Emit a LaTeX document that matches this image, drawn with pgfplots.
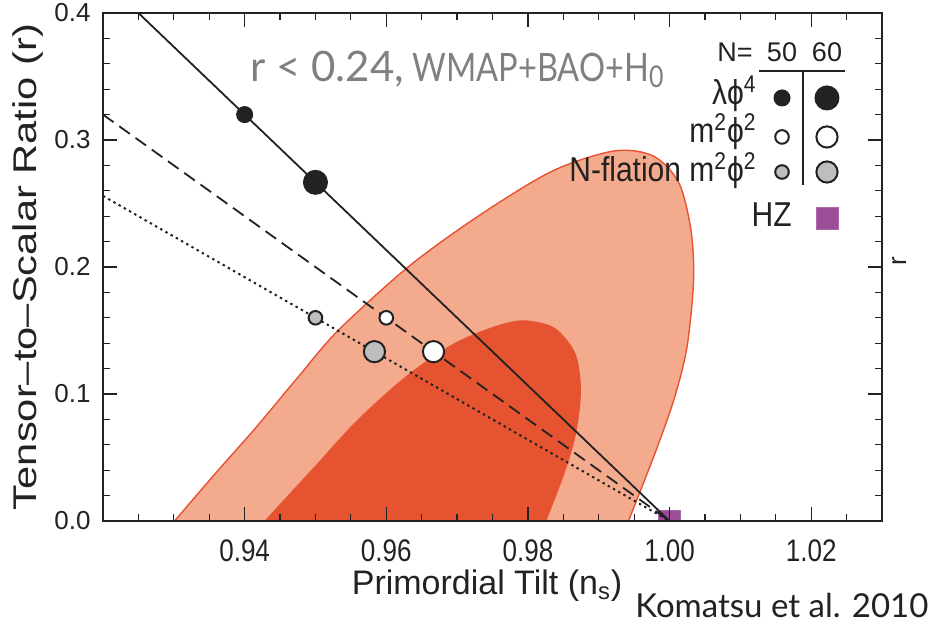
\documentclass[border=0pt]{standalone}
\usepackage{fontspec}
\usepackage{graphicx}
\usepackage{pgfplots}
\pgfplotsset{compat=1.18}
\setmainfont{Liberation Sans}
\newfontfamily\gill{Lato}

\definecolor{outerfill}{RGB}{244,170,140}
\definecolor{outeredge}{RGB}{232,82,50}
\definecolor{innerfill}{RGB}{229,83,48}
\definecolor{ink}{RGB}{34,34,34}
\definecolor{markgray}{RGB}{190,190,190}
\definecolor{hzpurple}{RGB}{155,77,152}
\definecolor{titlegray}{RGB}{128,128,128}

% 95% and 68% confidence regions in the (n_s, r) plane
\pgfplotstableread{
ns r
0.9270 -0.020
0.9301 0.000
0.9358 0.037
0.9415 0.073
0.9475 0.113
0.9532 0.150
0.9633 0.201
0.9734 0.2416
0.9835 0.2757
0.9922 0.2914
0.9977 0.2874
1.0013 0.2665
1.0030 0.2298
1.0034 0.1906
1.0025 0.1382
1.0008 0.0990
0.9982 0.0571
0.9942 0.000
0.9928 -0.020
}\outercontour

\pgfplotstableread{
ns r
0.9398 -0.020
0.9428 0.000
0.9498 0.0425
0.9559 0.0795
0.9630 0.115
0.9696 0.140
0.9757 0.154
0.9796 0.158
0.9838 0.152
0.9867 0.132
0.9875 0.103
0.9868 0.069
0.9852 0.038
0.9826 0.000
0.9812 -0.020
}\innercontour

\newcommand{\vstretch}[2][1.2]{\scalebox{1}[#1]{#2}}

\begin{document}
\begin{tikzpicture}
\useasboundingbox (-51.5pt,-52pt) rectangle (413.5pt,260.5pt);
\begin{axis}[
  at={(0,0)}, anchor=south west,
  scale only axis, width=389.5pt, height=254pt,
  xmin=0.92, xmax=1.03, ymin=0, ymax=0.4,
  axis on top,
  clip marker paths=true,
  axis line style={line width=0.8pt, draw=ink},
  xtick={0.94,0.96,0.98,1.00,1.02},
  minor xtick={0.925,0.93,0.935,0.945,0.95,0.955,0.965,0.97,0.975,0.985,0.99,0.995,1.005,1.01,1.015,1.025},
  ytick={0,0.1,0.2,0.3,0.4},
  minor ytick={0.02,0.04,0.06,0.08,0.12,0.14,0.16,0.18,0.22,0.24,0.26,0.28,0.32,0.34,0.36,0.38},
  tick align=inside,
  major tick length=7pt, minor tick length=3.5pt,
  every tick/.style={draw=ink, line width=0.6pt},
  /pgf/number format/assume math mode=true,
  tick label style={font=\fontsize{13}{13}\selectfont, text=ink},
  xticklabel={\vstretch{\pgfmathprintnumber[fixed,fixed zerofill,precision=2]{\tick}}},
  yticklabel={\pgfmathprintnumber[fixed,fixed zerofill,precision=1]{\tick}},
  xticklabel style={inner sep=1pt, yshift=-8.3pt},
  yticklabel style={xshift=-2.7pt},
  xlabel={Primordial Tilt (n\textsubscript{s})},
  xlabel style={font=\fontsize{17}{18}\selectfont, text=ink, inner sep=1pt,
    at={(axis description cs:0.493,-0.1437)}, anchor=base},
  ylabel={\scalebox{1.27}[1]{Tensor–to–Scalar Ratio (r)}},
  ylabel style={font=\fontsize{16.4}{18}\selectfont, text=ink,
    at={(axis description cs:-0.0963,0.5)}, anchor=center},
]
% confidence regions
\addplot[fill=outerfill, draw=outeredge, line width=0.7pt, smooth]
  table[x=ns, y=r] {\outercontour} -- cycle;
\addplot[fill=innerfill, draw=none, smooth]
  table[x=ns, y=r] {\innercontour} -- cycle;

% Harrison-Zel'dovich spectrum
\addplot[only marks, mark=square*, mark size=5.5pt,
  mark options={fill=hzpurple, draw=hzpurple!85!white, line width=0.4pt}]
  coordinates {(1.0,0)};

% model predictions as functions of e-folds
\addplot[ink, line width=0.9pt] coordinates {(0.92,0.42667) (1.0,0)};
\addplot[ink, line width=0.9pt, dash pattern=on 6.5pt off 3.5pt]
  coordinates {(0.92,0.32) (1.0,0)};
\addplot[ink, line width=1pt, dash pattern=on 1.2pt off 1.8pt]
  coordinates {(0.92,0.256) (1.0,0)};

% lambda phi^4
\addplot[only marks, mark=*, mark size=4pt, mark options={fill=ink, draw=ink, line width=0.5pt}]
  coordinates {(0.94,0.32)};
\addplot[only marks, mark=*, mark size=6pt, mark options={fill=ink, draw=ink, line width=0.5pt}]
  coordinates {(0.95,0.26667)};
% m^2 phi^2
\addplot[only marks, mark=*, mark size=3.4pt, mark options={fill=white, draw=ink, line width=1pt}]
  coordinates {(0.96,0.16)};
\addplot[only marks, mark=*, mark size=5.3pt, mark options={fill=white, draw=ink, line width=1pt}]
  coordinates {(0.96667,0.13333)};
% N-flation m^2 phi^2
\addplot[only marks, mark=*, mark size=3.4pt, mark options={fill=markgray, draw=ink, line width=1pt}]
  coordinates {(0.95,0.16)};
\addplot[only marks, mark=*, mark size=5.3pt, mark options={fill=markgray, draw=ink, line width=1pt}]
  coordinates {(0.95833,0.13333)};

% key symbols: N = 50 and N = 60 columns
\addplot[only marks, mark=*, mark size=4pt, mark options={fill=ink, draw=ink, line width=0.5pt}]
  coordinates {(1.01588,0.3331)};
\addplot[only marks, mark=*, mark size=6pt, mark options={fill=ink, draw=ink, line width=0.5pt}]
  coordinates {(1.02223,0.3331)};
\addplot[only marks, mark=*, mark size=3.4pt, mark options={fill=white, draw=ink, line width=1pt}]
  coordinates {(1.01588,0.3024)};
\addplot[only marks, mark=*, mark size=5.3pt, mark options={fill=white, draw=ink, line width=1pt}]
  coordinates {(1.02223,0.3024)};
\addplot[only marks, mark=*, mark size=3.4pt, mark options={fill=markgray, draw=ink, line width=1pt}]
  coordinates {(1.01588,0.2748)};
\addplot[only marks, mark=*, mark size=5.3pt, mark options={fill=markgray, draw=ink, line width=1pt}]
  coordinates {(1.02223,0.2748)};
\addplot[only marks, mark=square*, mark size=5.5pt,
  mark options={fill=hzpurple, draw=hzpurple!85!white, line width=0.4pt}]
  coordinates {(1.02223,0.2386)};
\end{axis}

% key text and rules
\begin{scope}[ink]
  \node[anchor=base east, font=\fontsize{13.5}{14}\selectfont, inner sep=0pt] at (325pt,229.5pt) {N=};
  \node[anchor=base, font=\fontsize{13.5}{14}\selectfont, inner sep=0pt] at (339.5pt,229.5pt) {50};
  \node[anchor=base, font=\fontsize{13.5}{14}\selectfont, inner sep=0pt] at (362pt,229.5pt) {60};
  \draw[line width=0.7pt] (328pt,225pt) -- (371pt,225pt);
  \draw[line width=0.7pt] (350pt,225pt) -- (350pt,168pt);
  \begin{scope}[every node/.style={anchor=base east, inner sep=0pt, font=\fontsize{15}{16}\selectfont}]
    \node at (327pt,208pt) {\vstretch[1.15]{λϕ\textsuperscript{4}}};
    \node at (327pt,189pt) {\vstretch[1.15]{m\textsuperscript{2}ϕ\textsuperscript{2}}};
    \node at (327pt,169.5pt) {\vstretch[1.15]{N-flation m\textsuperscript{2}ϕ\textsuperscript{2}}};
    \node at (344.5pt,147pt) {\vstretch[1.15]{HZ}};
  \end{scope}
\end{scope}

% right-hand axis label
\node[rotate=90, font=\fontsize{13}{13}\selectfont, text=ink] at (398pt,130pt) {r};

% bound on r
\node[anchor=base west, inner sep=0pt, text=titlegray] at (73.5pt,219.5pt)
  {\gill\fontsize{21}{22}\selectfont r < 0.24,\fontsize{16.3}{18}\selectfont{} \vstretch[1.2]{WMAP+BAO+H\raisebox{-0.3ex}{\fontsize{12.5}{12}\selectfont 0}}};

% reference
\node[anchor=base west, inner sep=0pt, text=ink] at (266pt,-48.5pt)
  {\gill\fontsize{16.5}{18}\selectfont Komatsu et al. 2010};
\end{tikzpicture}
\end{document}
